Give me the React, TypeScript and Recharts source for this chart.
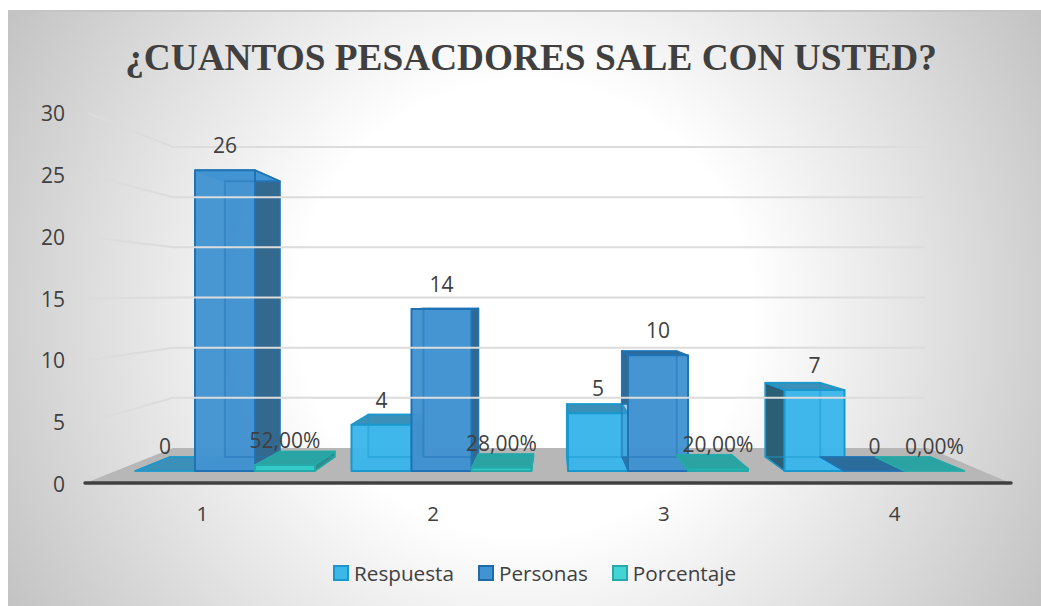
import React from "react";
import {BarChart, Bar, XAxis, YAxis, Legend, LabelList} from "recharts";

const categories = ["1", "2", "3", "4"];
const respuesta = [0, 4, 5, 7];
const personas = [26, 14, 10, 0];
const porcentaje = [0.52, 0.28, 0.2, 0];
const yTicks = [0, 5, 10, 15, 20, 25, 30];

const data = categories.map((name, i) => ({
    name,
    Respuesta: respuesta[i],
    Personas: personas[i],
    Porcentaje: porcentaje[i],
}));

// excel 3d look: far face of each box is the near face pulled towards this point
const VX = 554;
const VY = 302;
const K = 1 / 12;
const px = (x: number) => x + (VX - x) * K;
const py = (y: number) => y + (VY - y) * K;

const TEXT = "#404040";
const FONT = "'Open Sans', sans-serif";

const pts = (list: number[][]) => list.map((p) => p.join(",")).join(" ");

const makeBox = (near: string, edge: string, top: string, wall: string, prevKey?: string) => (props: any) => {
    const {x, y, width, height, payload, value} = props;
    const v = Array.isArray(value) ? value[1] - value[0] : value;
    const x2 = x + width;
    const base = y + height;
    const fx1 = px(x);
    const fx2 = px(x2);
    const fy1 = py(y);
    const fy2 = py(base);

    // left wall shows on boxes right of the vanishing point, hide the part behind the neighbour
    const showRight = x2 < VX;
    let showLeft = x > VX;
    let wallBottom = fy2;
    let nearBottom = base;
    if (showLeft && prevKey && v > 0 && payload[prevKey] > 0) {
        if (payload[prevKey] >= v) {
            showLeft = false;
        } else {
            const neighbourTop = base - (height / v) * payload[prevKey];
            wallBottom = py(neighbourTop);
            nearBottom = wallBottom;
        }
    }

    return (
        <g strokeLinejoin="round">
            <rect x={fx1} y={fy1} width={fx2 - fx1} height={Math.max(fy2 - fy1, 0)} fill={near} fillOpacity={0.45}/>
            <polygon points={pts([[x, base], [x2, base], [fx2, fy2], [fx1, fy2]])} fill={top} fillOpacity={0.85} stroke={edge} strokeWidth={1}/>
            {showRight && <polygon points={pts([[x2, y], [fx2, fy1], [fx2, fy2], [x2, base]])} fill={wall} stroke={edge} strokeWidth={1.5}/>}
            {showLeft && <polygon points={pts([[x, y], [fx1, fy1], [fx1, wallBottom], [x, nearBottom]])} fill={wall} stroke={edge} strokeWidth={1.5}/>}
            <polygon points={pts([[x, y], [x2, y], [fx2, fy1], [fx1, fy1]])} fill={fy1 < y ? top : near} stroke={edge} strokeWidth={1.5}/>
            <rect x={x} y={y} width={width} height={height} fill={near} fillOpacity={0.97} stroke={edge} strokeWidth={2}/>
            {height > 0 && <rect x={fx1} y={fy1} width={fx2 - fx1} height={Math.max(fy2 - fy1, 0)} fill="none" stroke={edge} strokeOpacity={0.45} strokeWidth={2}/>}
        </g>
    );
};

const boxRespuesta = makeBox("#3db6ea", "#1898cd", "#3a90b8", "#2b5f75");
const boxPersonas = makeBox("#4293d1", "#1f73b5", "#2a6c9c", "#34698f", "Respuesta");
const boxPorcentaje = makeBox("#33cbcb", "#25a9a9", "#2ba3a3", "#2f8c8c", "Personas");

// tick label plus the wall line and back wall line for this value.
// y comes from the bar scale (0 at 471), the label and the wall sit on their own planes
const WallTick = (props: any) => {
    const {y, payload} = props;
    const labelY = 484 - (471 - y) * (371 / 347);
    const backY = 448 - (471 - y) * (301 / 347);
    const value = payload.value;
    return (
        <g>
            {value > 0 && (
                <polyline
                    points={pts([[88, labelY], [173, backY], [925, backY]])}
                    fill="none"
                    stroke="#dcdcdc"
                    strokeWidth={2}
                />
            )}
            <text x={65} y={labelY} textAnchor="end" dominantBaseline="central" fontSize={21} fontFamily={FONT} fill={TEXT}>
                {value}
            </text>
        </g>
    );
};

const Floor = () => (
    <g>
        <polygon points={pts([[88, 482], [173, 448], [928, 448], [1008, 482]])} fill="#b7b7b7"/>
        <line x1={85} x2={1011} y1={483} y2={483} stroke="#404040" strokeWidth={3.5} strokeLinecap="round"/>
    </g>
);

const swatchBorders = ["#1898cd", "#1f6aa8", "#25a9a9"];

const renderLegend = (props: any) => (
    <div style={{display: "flex", fontFamily: FONT, fontSize: 20.7, color: TEXT, lineHeight: "26px"}}>
        {props.payload.map((entry: any, i: number) => (
            <div key={entry.value} style={{display: "flex", alignItems: "center", marginRight: 24}}>
                <span style={{width: 12, height: 12, marginRight: 5, background: entry.color, border: `2px solid ${swatchBorders[i]}`}}/>
                {entry.value}
            </div>
        ))}
    </div>
);

const pctLabel = (v: any) => `${(Number(v) * 100).toFixed(2).replace(".", ",")}%`;

const labelStyle = {fontSize: 21, fontFamily: FONT, fill: TEXT};

const App = () => {
    return (
        <div style={{position: "absolute", left: 0, top: 0, width: 1041, height: 606, background: "#fff", overflow: "hidden"}}>
            <div
                style={{
                    position: "absolute",
                    left: 8,
                    top: 10,
                    width: 1033,
                    height: 596,
                    boxSizing: "border-box",
                    borderTop: "2px solid #c4c4c4",
                    background: "radial-gradient(circle at 50% 50%, #ffffff 38%, #c3c3c3 100%)",
                }}
            />
            <BarChart
                width={1041}
                height={606}
                data={data}
                barGap={0}
                barSize={60}
                margin={{top: 113, right: 31, bottom: 58, left: 27}}
                style={{position: "absolute", left: 0, top: 0}}
            >
                <text x={531} y={57} textAnchor="middle" dominantBaseline="central" fontFamily="'Liberation Serif', serif" fontWeight="bold" fontSize={37.3} fill={TEXT}>
                    ¿CUANTOS PESACDORES SALE CON USTED?
                </text>
                <Floor/>
                <YAxis width={60} domain={[0, 30]} ticks={yTicks} padding={{top: 11, bottom: 13}} axisLine={false} tickLine={false} tick={WallTick}/>
                <XAxis xAxisId="ticks" dataKey="name" height={38} axisLine={false} tickLine={false} tick={{fontSize: 20.5, fontFamily: FONT, fill: TEXT}} tickMargin={16}/>
                <XAxis xAxisId="bars" hide height={0} dataKey="name" padding={{left: 30, right: 27}}/>
                <Legend content={renderLegend} itemSorter={null} wrapperStyle={{left: 333, top: 560, width: "auto", bottom: "auto"}}/>
                <Bar xAxisId="bars" dataKey="Respuesta" fill="#3db6ea" shape={boxRespuesta} isAnimationActive={false}>
                    <LabelList dataKey="Respuesta" position="top" offset={17} style={labelStyle}/>
                </Bar>
                <Bar xAxisId="bars" dataKey="Personas" fill="#4293d1" shape={boxPersonas} isAnimationActive={false}>
                    <LabelList dataKey="Personas" position="top" offset={17} style={labelStyle}/>
                </Bar>
                <Bar xAxisId="bars" dataKey="Porcentaje" fill="#45d4d6" shape={boxPorcentaje} isAnimationActive={false}>
                    <LabelList dataKey="Porcentaje" position="top" offset={17} formatter={pctLabel} style={labelStyle}/>
                </Bar>
            </BarChart>
        </div>
    );
};

export default App;
